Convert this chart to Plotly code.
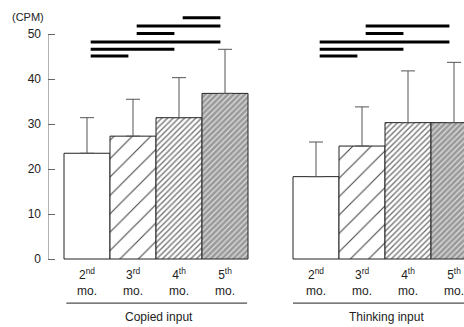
import plotly.graph_objects as go

# ---- data ----
month_nums = ["2", "3", "4", "5"]
month_sups = ["nd", "rd", "th", "th"]
groups = ["Copied input", "Thinking input"]
copied_mean = [23.5, 27.3, 31.4, 36.8]
copied_err = [7.9, 8.2, 8.9, 9.8]
thinking_mean = [18.3, 25.1, 30.3, 30.3]
thinking_err = [7.7, 8.7, 11.5, 13.4]
copied_sig = [(0, 1), (0, 2), (0, 3), (1, 2), (1, 3), (2, 3)]
thinking_sig = [(0, 1), (0, 2), (0, 3), (1, 2), (1, 3)]
y_ticks = [0, 10, 20, 30, 40, 50]

# ---- layout constants ----
W, H = 464, 327
SIG_Y = [45.1, 46.6, 48.2, 50.1, 51.8, 53.6]
FONT = "Liberation Sans, Arial, sans-serif"
pat_shape = ["", "/", "/", "/"]
pat_size = [8, 13, 4, 4]
pat_solid = [0.1, 0.08, 0.35, 0.3]
pat_fg = ["#333", "#444", "#777", "#e0e0e0"]
pat_bg = ["white", "white", "white", "#9a9a9a"]

fig = go.Figure()
xs = list(range(len(month_nums)))
for k, (mean, err) in enumerate([(copied_mean, copied_err), (thinking_mean, thinking_err)]):
    fig.add_trace(go.Bar(
        x=xs, y=mean, width=1.0,
        xaxis="x" if k == 0 else "x2", yaxis="y" if k == 0 else "y2",
        marker=dict(color="white", line=dict(color="#222", width=1),
                    pattern=dict(shape=pat_shape, size=pat_size, solidity=pat_solid,
                                 fgcolor=pat_fg, bgcolor=pat_bg, fillmode="replace")),
        error_y=dict(type="data", array=err, arrayminus=[0] * len(err), symmetric=False,
                     color="#555", thickness=1, width=7),
        showlegend=False, hoverinfo="skip",
    ))

shapes = []
annotations = []
for k, sig in enumerate([copied_sig, thinking_sig]):
    xr = "x" if k == 0 else "x2"
    yr = "y" if k == 0 else "y2"
    for lvl, (i, j) in enumerate(sig):
        shapes.append(dict(type="line", xref=xr, yref=yr, x0=i + 0.08, x1=j - 0.1,
                           y0=SIG_Y[lvl], y1=SIG_Y[lvl], line=dict(color="black", width=3)))
    # group underline
    shapes.append(dict(type="line", xref=xr, yref=yr, x0=-0.45 if k == 0 else -0.5,
                       x1=3.48 if k == 0 else 4.0, y0=-9.8, y1=-9.8,
                       line=dict(color="#222", width=1)))
    for i in xs:
        annotations.append(dict(xref=xr, yref=yr, x=i, y=-5.1,
                                text=f"{month_nums[i]}<sup>{month_sups[i]}</sup><br>mo.",
                                showarrow=False, font=dict(size=12, color="#222", family=FONT)))
    annotations.append(dict(xref=xr, yref=yr, x=1.57 if k == 0 else 1.54, y=-12.8,
                            text=groups[k], showarrow=False,
                            font=dict(size=12, color="#222", family=FONT)))

# y axis line (copied panel only)
shapes.append(dict(type="line", xref="x", yref="y", x0=-0.848, x1=-0.848, y0=0, y1=50,
                   line=dict(color="#666", width=1)))
annotations.append(dict(xref="paper", yref="paper", x=28 / W, y=1 - 17 / H,
                        xanchor="center", yanchor="middle",
                        text="(CPM)", showarrow=False,
                        font=dict(size=11, color="#222", family=FONT)))

ymin, ymax = -(H - 259) / 4.5, 259 / 4.5
fig.update_layout(
    width=W, height=H, margin=dict(l=0, r=0, t=0, b=0),
    paper_bgcolor="white", plot_bgcolor="white",
    shapes=shapes, annotations=annotations,
    xaxis=dict(domain=[48 / W, 250 / W], range=[(48 - 87) / 46, (250 - 87) / 46],
               visible=False),
    xaxis2=dict(domain=[260 / W, 1], range=[(260 - 316) / 46, (464 - 316) / 46],
                visible=False),
    yaxis=dict(range=[ymin, ymax], tickvals=y_ticks, ticks="inside", ticklen=7,
               tickcolor="#666", showline=False, showgrid=False, zeroline=False,
               ticklabelstandoff=6,
               tickfont=dict(size=12, color="#222", family=FONT), anchor="x"),
    yaxis2=dict(range=[ymin, ymax], visible=False, anchor="x2"),
)
fig.write_html("out.html")
